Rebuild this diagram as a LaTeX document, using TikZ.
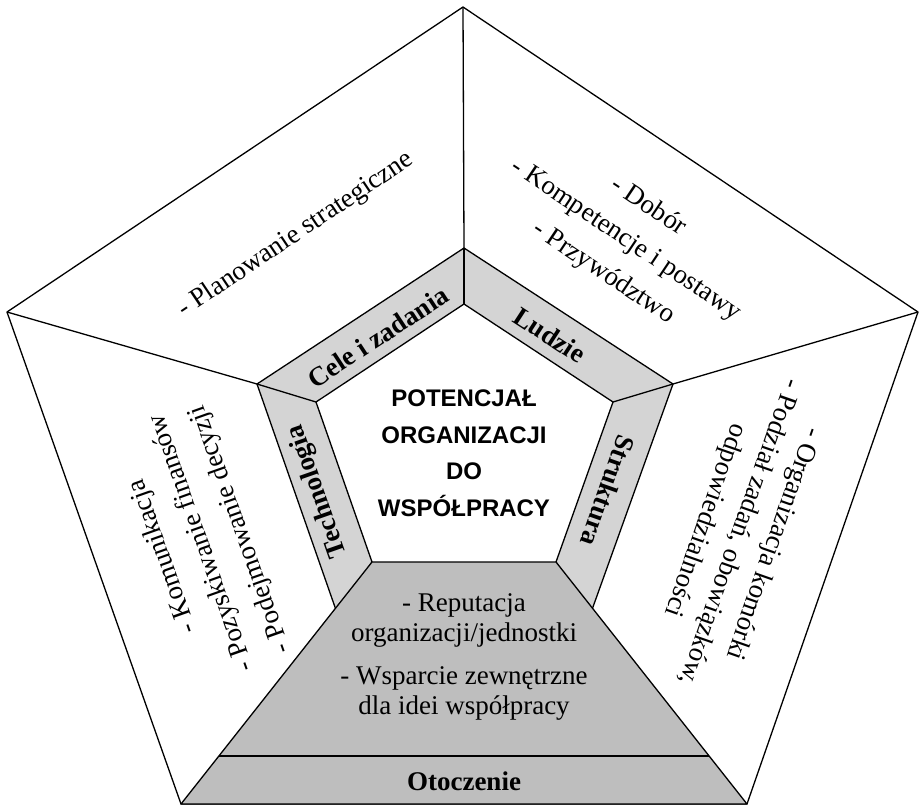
\documentclass[tikz,border=0pt]{standalone}
\usepackage{fontspec}
\setmainfont{Liberation Serif}
\setsansfont{Liberation Sans}
\definecolor{bandgray}{RGB}{212,212,212}
\definecolor{traygray}{RGB}{190,190,190}
\begin{document}
\begin{tikzpicture}[x=1pt,y=-1pt,
  edge/.style={draw=black,line width=1.3pt,line join=round},
  listtext/.style={align=center,inner sep=0pt,font=\fontsize{27}{39}\selectfont},
  bandlabel/.style={inner sep=0pt,font=\fontsize{27}{30}\selectfont\bfseries},
  centertext/.style={align=center,inner sep=0pt,font=\fontsize{24}{36.5}\selectfont\sffamily\bfseries}]
\useasboundingbox (0,0) rectangle (919,807);
% outer pentagon
\coordinate (OT) at (463,7);
\coordinate (OR) at (918,312);
\coordinate (OBR) at (747,804);
\coordinate (OBL) at (181,804);
\coordinate (OL) at (7,312);
% middle (band outer) vertices
\coordinate (MT) at (464,248);
\coordinate (ML) at (257,384);
\coordinate (MR) at (673,384);
\coordinate (MBL) at (339.5,620);
\coordinate (MBR) at (588.3,620);
% inner pentagon
\coordinate (IT) at (464,304);
\coordinate (IL) at (316,402);
\coordinate (IR) at (613,402);
\coordinate (IBL) at (372,562);
\coordinate (IBR) at (556,562);
% otoczenie line
\coordinate (LL) at (219,756);
\coordinate (LR) at (709,756);

\draw[edge,fill=white] (OT) -- (OR) -- (OBR) -- (OBL) -- (OL) -- cycle;
\draw[edge] (OT) -- (MT);
\draw[edge] (OL) -- (ML);
\draw[edge] (OR) -- (MR);
\draw[edge,fill=bandgray] (MBL) -- (ML) -- (MT) -- (MR) -- (MBR) -- (IBR) -- (IR) -- (IT) -- (IL) -- (IBL) -- cycle;
\draw[edge] (MT) -- (IT);
\draw[edge] (ML) -- (IL);
\draw[edge] (MR) -- (IR);
\draw[edge,fill=traygray] (IBL) -- (IBR) -- (OBR) -- (OBL) -- cycle;
\draw[edge] (LL) -- (LR);

% texts
\node[centertext] (center) at (464,453) {POTENCJAŁ\\ORGANIZACJI\\DO\\WSPÓŁPRACY};
\node[bandlabel,rotate=33.3] (cele) at (378,337) {Cele i zadania};
\node[bandlabel,rotate=-33.1] (ludzie) at (550,335) {Ludzie};
\node[bandlabel,rotate=109.3] (techno) at (318,491) {Technologia};
\node[bandlabel,rotate=-109.3] (strukt) at (608,491) {Struktura};
\node[bandlabel] (otocz) at (464,781) {Otoczenie};

\node[listtext,rotate=33.8] (plan) at (296,235) {- Planowanie strategiczne};
\node[listtext,rotate=-33.8,font=\fontsize{27}{40}\selectfont] (ludzielist) at (626,240) {- Dobór\\- Kompetencje i postawy\\- Przywództwo};
\node[listtext,rotate=109.5,font=\fontsize{27}{41}\selectfont] (technolist) at (202,543) {- Komunikacja\\- Pozyskiwanie finansów\\- Podejmowanie decyzji};
\node[listtext,rotate=-109.3,font=\fontsize{27}{36}\selectfont] (struktlist) at (739,532) {- Organizacja komórki\\- Podział zadań, obowiązków,\\odpowiedzialności};
\node[listtext,font=\fontsize{27}{30}\selectfont] (otoczlist) at (464,657) {- Reputacja\\organizacji/jednostki\\[13pt]- Wsparcie zewnętrzne\\dla idei współpracy};
\end{tikzpicture}
\end{document}
